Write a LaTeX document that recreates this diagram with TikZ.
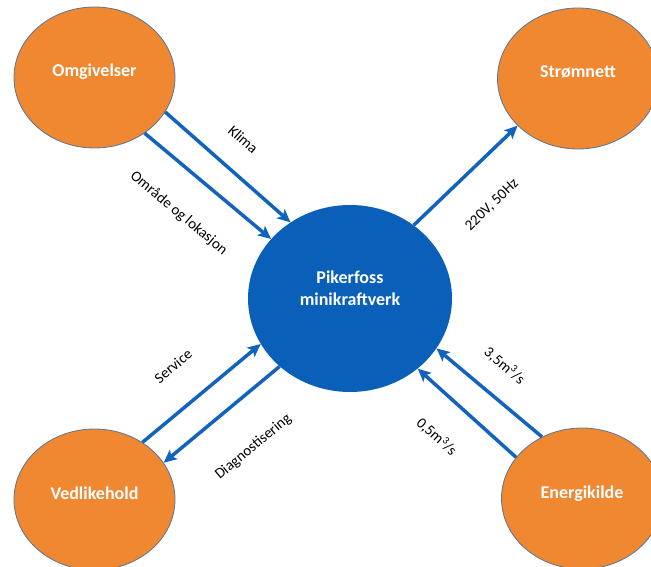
\documentclass[tikz,border=0pt]{standalone}
\usepackage{fontspec}
\setmainfont{Carlito}
\usetikzlibrary{arrows.meta,shapes.geometric}
\definecolor{envorange}{RGB}{240,135,49}
\definecolor{envedge}{RGB}{88,118,150}
\definecolor{plantblue}{RGB}{10,96,184}
\definecolor{flowblue}{RGB}{18,99,189}
\begin{document}
\begin{tikzpicture}[x=1pt,y=1pt,>={Stealth[length=13pt,width=12pt,inset=3pt]},
  env/.style={ellipse,draw=envedge,line width=0.8pt,fill=envorange,minimum width=161pt,minimum height=141pt,inner sep=0pt,text=white,font=\fontsize{18}{21.5}\selectfont\bfseries,text height=12pt,text depth=13pt},
  plant/.style={ellipse,fill=plantblue,minimum width=204pt,minimum height=187pt,inner sep=0pt,text=white,font=\fontsize{18}{21.5}\selectfont\bfseries,text height=37pt,text depth=24pt},
  flow/.style={->,draw=flowblue,line width=3.5pt},
  lbl/.style={sloped,inner sep=0pt,font=\fontsize{15}{18}\selectfont}]
  \clip (0,0) rectangle (651,566);
  \node[plant] (pik) at (350,267.5) {\begin{tabular}[b]{@{}c@{}}Pikerfoss\\minikraftverk\end{tabular}};
  \node[env] (omg) at (94.5,488.5) {Omgivelser};
  \node[env] (strom) at (578,487.5) {Strømnett};
  \node[env] (vedl) at (94.5,66.5) {Vedlikehold};
  \node[env] (energi) at (582,67.5) {Energikilde};
  % inn fra omgivelsene
  \draw[flow] (omg.-26) -- (pik.128) node[lbl,pos=.46,above=24pt] {Klima};
  \draw[flow] (omg.-48) -- (pik.143) node[lbl,pos=.47,below=31pt] {Område og lokasjon};
  % ut til nettet
  \draw[flow] (pik.49) -- (strom.-142) node[lbl,pos=.49,below=32pt] {220V, 50Hz};
  % vedlikehold
  \draw[flow] (vedl.50) -- (pik.-153) node[lbl,pos=.47,above=32pt] {Service};
  \draw[flow] (pik.-136) -- (vedl.28) node[lbl,pos=.475,below=37pt] {Diagnostisering};
  % vannføring
  \draw[flow] (energi.123) -- (pik.-30) node[lbl,pos=.54,above=22pt] {3,5m\textsuperscript{3}/s};
  \draw[flow] (energi.148) -- (pik.-46) node[lbl,pos=.55,below=29pt] {0,5m\textsuperscript{3}/s};
\end{tikzpicture}
\end{document}
